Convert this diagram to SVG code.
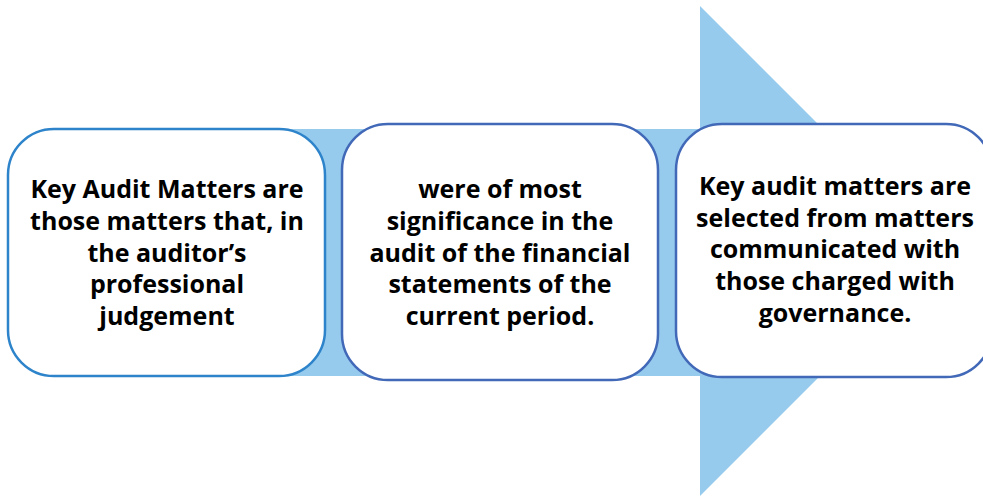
<svg xmlns="http://www.w3.org/2000/svg" width="983" height="496" viewBox="0 0 983 496">
<style>
.arrow{fill:#96CBEE;}
.box{fill:#FFFFFF;stroke-width:2.5;}
.b1{stroke:#2E84CA;}
.b2{stroke:#4169B8;}
.t{font-family:"Open Sans","Noto Sans",sans-serif;font-weight:bold;font-size:25px;fill:#000;text-anchor:middle;}
</style>
<g id="arrow">
<rect class="arrow" x="60" y="129" width="642" height="247"/>
<polygon class="arrow" points="700,6 945,251 700,496"/>
</g>
<g id="node1">
<rect class="box b1" x="8" y="129" width="317" height="247" rx="46" ry="46"/>
<text class="t" x="167" y="198">Key Audit Matters are</text>
<text class="t" x="167" y="230">those matters that, in</text>
<text class="t" x="167" y="262">the auditor’s</text>
<text class="t" x="167" y="293">professional</text>
<text class="t" x="167" y="325">judgement</text>
</g>
<g id="node2">
<rect class="box b2" x="342" y="124" width="316" height="256" rx="46" ry="46"/>
<text class="t" x="500" y="198">were of most</text>
<text class="t" x="500" y="230">significance in the</text>
<text class="t" x="500" y="262">audit of the financial</text>
<text class="t" x="500" y="293">statements of the</text>
<text class="t" x="500" y="325">current period.</text>
</g>
<g id="node3">
<rect class="box b2" x="676" y="124" width="316" height="253" rx="46" ry="46"/>
<text class="t" x="835" y="195">Key audit matters are</text>
<text class="t" x="835" y="227">selected from matters</text>
<text class="t" x="835" y="258">communicated with</text>
<text class="t" x="835" y="290">those charged with</text>
<text class="t" x="835" y="322">governance.</text>
</g>
<g id="connectors"></g>
</svg>
